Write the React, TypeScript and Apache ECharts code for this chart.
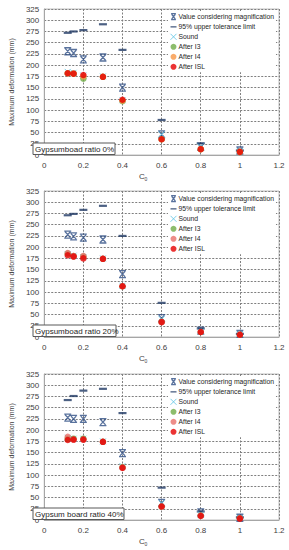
import React, { useEffect, useRef } from "react";
import * as echarts from "echarts";

const cValues = [0.12, 0.15, 0.2, 0.3, 0.4, 0.6, 0.8, 1.0];
const xTicks = ["0", "0.2", "0.4", "0.6", "0.8", "1", "1.2"];
const seriesNames = [
  "Value considering magnification",
  "95% upper tolerance limit",
  "Sound",
  "After I3",
  "After I4",
  "After ISL",
];

const mag0 = [231, 227, 213, 217, 150, 46, 18, 10];
const tol0 = [272, 275, 278, 291, 234, 78, 26, 10];
const sound0 = [185, 183, 177, 175, 122, 46, 19, 9];
const i3_0 = [182, 181, 170, 174, 120, 35, 13, 7];
const i4_0 = [182, 181, 175, 174, 121, 35, 13, 7];
const isl0 = [182, 181, 178, 174, 123, 35, 13, 7];

const mag20 = [228, 224, 221, 217, 140, 42, 14, 7];
const tol20 = [271, 274, 283, 292, 225, 76, 19, 7];
const sound20 = [184, 181, 178, 175, 114, 40, 12, 6];
const i3_20 = [186, 180, 179, 174, 113, 34, 11, 5];
const i4_20 = [187, 180, 180, 174, 113, 34, 11, 5];
const isl20 = [182, 179, 175, 174, 113, 33, 11, 5];

const mag40 = [228, 225, 225, 218, 149, 38, 17, 5];
const tol40 = [267, 276, 288, 292, 238, 72, 19, 6];
const sound40 = [183, 181, 181, 175, 120, 38, 12, 5];
const i3_40 = [181, 181, 181, 174, 118, 30, 10, 4];
const i4_40 = [185, 179, 179, 174, 117, 30, 10, 4];
const isl40 = [178, 179, 179, 174, 116, 30, 9, 3];

const panelLabels = ["Gypsumboad ratio 0%", "Gypsumboad ratio 20%", "Gypsum board ratio 40%"];
const panelData = [
  [mag0, tol0, sound0, i3_0, i4_0, isl0],
  [mag20, tol20, sound20, i3_20, i4_20, isl20],
  [mag40, tol40, sound40, i3_40, i4_40, isl40],
];

const FONT = "Liberation Sans, Arial, sans-serif";
const tops = [9, 191, 374];
const PLOT_H = 146;
const GRID_LEFT = 32;
const GRID_RIGHT = 10;
const boxWidths = [82, 83, 91];

const magPath = "path://M1,0L9,0M1,10L9,10M2,1L8,9M8,1L2,9";
const xPath = "path://M0,0L10,10M10,0L0,10";
const dashIcon = "path://M0,0L0,0M0,4L10,4L10,6.2L0,6.2ZM10,10L10,10";

function seriesStyle(k: number, p: number): any {
  const i4Color = p === 0 ? "#f79646" : "#e8706a";
  switch (k) {
    case 0:
      return { symbol: magPath, symbolSize: 7, itemStyle: { color: "rgba(0,0,0,0)", borderColor: "#2f4f85", borderWidth: 1.3 } };
    case 1:
      return { symbol: "rect", symbolSize: [8, 2.2], itemStyle: { color: "#1f3864" } };
    case 2:
      return { symbol: xPath, symbolSize: 6, itemStyle: { color: "rgba(0,0,0,0)", borderColor: "#5bc3e3", borderWidth: 1 } };
    case 3:
      return { symbol: "circle", symbolSize: 6.5, itemStyle: { color: "#70ad47" } };
    case 4:
      return { symbol: "circle", symbolSize: 6.5, itemStyle: { color: i4Color } };
    default:
      return { symbol: "circle", symbolSize: 6.5, itemStyle: { color: "#e60000" } };
  }
}

export default function App() {
  const ref = useRef<HTMLDivElement>(null);
  useEffect(() => {
    document.body.style.margin = "0";
    const chart = echarts.init(ref.current!, undefined, { renderer: "svg" });
    const grids: any[] = [];
    const xAxes: any[] = [];
    const yAxes: any[] = [];
    const series: any[] = [];
    const legends: any[] = [];
    const graphics: any[] = [];
    panelData.forEach((arrs, p) => {
      grids.push({
        left: GRID_LEFT,
        right: GRID_RIGHT,
        top: tops[p],
        height: PLOT_H,
        show: true,
        borderColor: "#bfbfbf",
        borderWidth: 1,
        backgroundColor: "#fff",
      });
      xAxes.push({
        type: "value",
        gridIndex: p,
        min: 0,
        max: 1.2,
        interval: 0.2,
        axisLine: { show: true, lineStyle: { color: "#a6a6a6" } },
        axisTick: { show: false },
        axisLabel: {
          fontSize: 8,
          color: "#404040",
          fontFamily: FONT,
          margin: 6,
          formatter: (v: number) => xTicks[Math.round(v / 0.2)] ?? String(v),
        },
        splitLine: { show: true, lineStyle: { color: "#7f7f7f", type: [2, 1.5], width: 1 } },
      });
      yAxes.push({
        type: "value",
        gridIndex: p,
        min: 0,
        max: 325,
        interval: 25,
        axisLine: { show: true, lineStyle: { color: "#a6a6a6" } },
        axisTick: { show: false },
        axisLabel: { fontSize: 8, color: "#404040", fontFamily: FONT, margin: 5 },
        splitLine: { show: true, lineStyle: { color: "#7f7f7f", type: [2, 1.5], width: 1 } },
        name: "Maximum deformation (mm)",
        nameLocation: "middle",
        nameGap: 21,
        nameTextStyle: { fontSize: 7, color: "#404040", fontFamily: FONT },
      });
      arrs.forEach((vals, k) => {
        const st = seriesStyle(k, p);
        series.push({
          type: "scatter",
          name: seriesNames[k],
          xAxisIndex: p,
          yAxisIndex: p,
          data: cValues.map((c, i) => [c, vals[i]]),
          ...st,
          z: 2 + k,
        });
      });
      legends.push({
        orient: "vertical",
        left: 168,
        top: tops[p] + 2,
        itemWidth: 6,
        itemHeight: 6,
        itemGap: 3,
        padding: [2, 2, 2, 2],
        backgroundColor: "#fff",
        textStyle: { fontSize: 6.8, color: "#262626", fontFamily: FONT, padding: [0, 0, 0, -3] },
        data: seriesNames.map((n, k) => {
          const st = seriesStyle(k, p);
          const item: any = { name: n, itemStyle: { ...st.itemStyle } };
          if (k === 1) item.icon = dashIcon;
          return item;
        }),
      });
      const boxTop = tops[p] + PLOT_H - 12;
      graphics.push({
        type: "rect",
        shape: { x: 33, y: boxTop, width: boxWidths[p], height: 11.5 },
        style: { fill: "#fff", stroke: "#595959", lineWidth: 1 },
        z: 100,
      });
      graphics.push({
        type: "text",
        x: 35,
        y: boxTop + 6,
        style: {
          text: panelLabels[p],
          fontSize: 8,
          fill: "#262626",
          fontFamily: FONT,
          verticalAlign: "middle",
          align: "left",
        },
        z: 101,
      });
      graphics.push({
        type: "text",
        x: 139,
        y: tops[p] + PLOT_H + 21,
        style: { text: "C", fontSize: 8, fill: "#404040", fontFamily: FONT, verticalAlign: "middle" },
      });
      graphics.push({
        type: "text",
        x: 144.5,
        y: tops[p] + PLOT_H + 23.5,
        style: { text: "0", fontSize: 5, fill: "#404040", fontFamily: FONT, verticalAlign: "middle" },
      });
    });
    chart.setOption({
      animation: false,
      backgroundColor: "#fff",
      grid: grids,
      xAxis: xAxes,
      yAxis: yAxes,
      legend: legends,
      series,
      graphic: graphics,
    });
    return () => chart.dispose();
  }, []);
  return <div ref={ref} style={{ width: 289, height: 550 }} />;
}
